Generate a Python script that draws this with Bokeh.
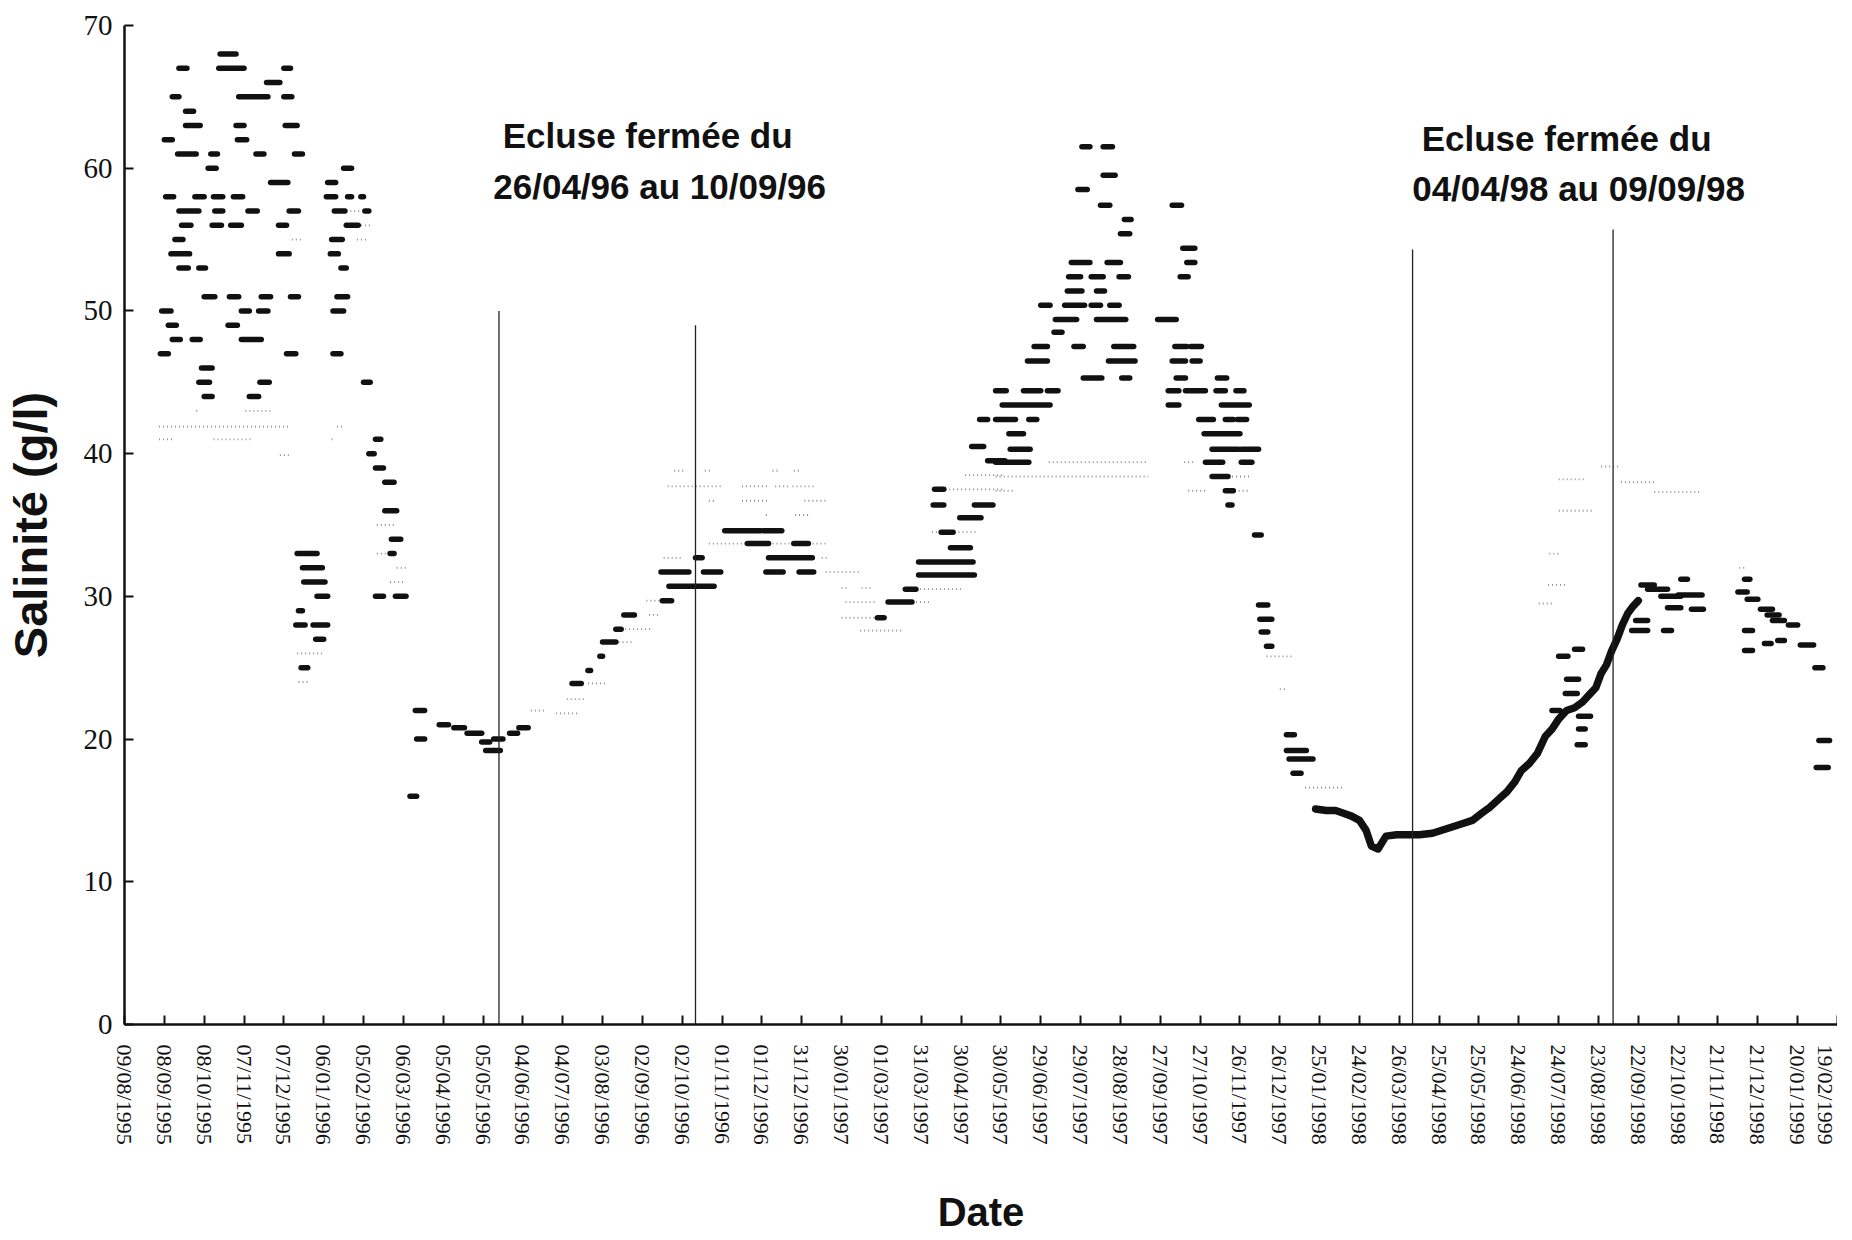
import datetime as dt
from bokeh.plotting import figure
from bokeh.models import FixedTicker, Range1d, Label, ColumnDataSource
from bokeh.embed import file_html
from bokeh.resources import INLINE

# ---------------- DATA ----------------
ORIGINE = dt.date(1995, 8, 9)   # jour 0 de l'axe

dates_graduations = [
    "09/08/1995", "08/09/1995", "08/10/1995", "07/11/1995", "07/12/1995",
    "06/01/1996", "05/02/1996", "06/03/1996", "05/04/1996", "05/05/1996",
    "04/06/1996", "04/07/1996", "03/08/1996", "02/09/1996", "02/10/1996",
    "01/11/1996", "01/12/1996", "31/12/1996", "30/01/1997", "01/03/1997",
    "31/03/1997", "30/04/1997", "30/05/1997", "29/06/1997", "29/07/1997",
    "28/08/1997", "27/09/1997", "27/10/1997", "26/11/1997", "26/12/1997",
    "25/01/1998", "24/02/1998", "26/03/1998", "25/04/1998", "25/05/1998",
    "24/06/1998", "24/07/1998", "23/08/1998", "22/09/1998", "22/10/1998",
    "21/11/1998", "21/12/1998", "20/01/1999", "19/02/1999",
]

# Mesures (traits noirs) : paliers de salinité, jour de début / fin (jours depuis le 09/08/1995)
noir_debut = [
    72, 41, 71, 120, 107, 36, 86, 120, 46, 46, 84, 121, 30, 85,
    40, 65, 99, 128, 63, 165, 110, 153,
    31, 53, 67, 82, 152, 168, 178, 41, 68, 93, 124, 158, 181,
    43, 66, 80, 116, 167, 38, 156, 35, 116, 155, 41, 56, 163,
    60, 79, 103, 125, 160, 28, 88, 101, 157, 33, 78, 36, 51, 88,
    27, 122, 157, 58, 56, 102, 180, 60, 94,
    189, 184, 189, 196, 196, 201, 200, 189, 204,
    130, 134, 135, 145, 131, 129, 142, 144, 133,
    215, 219, 220, 237, 248, 258, 269, 272, 278, 290, 297,
    337, 349, 358, 360, 370, 376, 405, 410, 404, 436, 483, 508, 430, 485, 469, 504, 452, 481, 567, 575,
    588, 598, 598, 622, 615, 629, 609, 640, 610, 650, 638, 644,
    721, 737, 737, 718, 735, 789, 753, 750, 797, 713, 740, 800,
    711, 728, 749, 795, 710, 732, 690, 708, 728, 742, 701, 732, 778, 700,
    685, 715, 745, 791, 803, 680, 741, 789, 804, 722, 751, 792, 823,
    656, 677, 695, 786, 799, 822, 837, 661, 786, 826, 656, 681, 809, 829, 838,
    666, 813, 667, 819, 841, 656, 814, 841, 819, 829, 831, 851, 854, 855, 856, 860,
    875, 875, 877, 880, 1075,
    1080, 1092, 1086, 1085, 1095, 1095, 1094,
    1135, 1138, 1142, 1147, 1157, 1162, 1170, 1172, 1180, 1159,
    1215, 1220, 1222, 1232, 1237, 1241, 1253, 1262, 1273, 1220, 1220, 1235, 1245, 1276, 1274,
]
noir_fin = [
    84, 47, 90, 125, 117, 41, 108, 126, 52, 57, 90, 130, 36, 92,
    54, 70, 105, 134, 69, 171, 123, 159,
    37, 60, 74, 89, 159, 171, 180, 56, 74, 100, 131, 166, 184,
    50, 73, 88, 122, 176, 44, 164, 49, 124, 161, 48, 61, 167,
    68, 86, 110, 131, 168, 35, 94, 108, 165, 39, 85, 42, 57, 103,
    33, 129, 163, 66, 64, 109, 185, 66, 101,
    193, 188, 195, 203, 205, 208, 203, 195, 212,
    145, 149, 151, 153, 134, 136, 153, 150, 138,
    220, 226, 226, 244, 256, 269, 275, 283, 285, 296, 304,
    344, 351, 360, 370, 374, 384, 412, 444, 425, 449, 496, 519, 435, 518, 485, 515, 479, 495, 572, 593,
    596, 640, 639, 637, 624, 645, 617, 654, 617, 663, 647, 650,
    727, 744, 746, 725, 742, 796, 758, 757, 806, 727, 750, 806,
    720, 737, 756, 801, 721, 738, 697, 723, 735, 749, 717, 754, 792, 706,
    695, 722, 760, 800, 811, 695, 761, 799, 810, 736, 757, 799, 830,
    664, 690, 703, 794, 814, 829, 843, 697, 794, 847, 671, 687, 820, 835, 845,
    677, 840, 682, 839, 854, 681, 827, 849, 831, 835, 834, 856, 861, 864, 861, 864,
    881, 890, 895, 886, 1081,
    1087, 1098, 1095, 1094, 1104, 1100, 1100,
    1147, 1147, 1152, 1162, 1172, 1172, 1188, 1177, 1189, 1165,
    1222, 1224, 1230, 1241, 1246, 1250, 1260, 1272, 1279, 1226, 1226, 1240, 1250, 1284, 1283,
]
noir_salinite = [
    68, 67, 67, 67, 66, 65, 65, 65, 64, 63, 63, 63, 62, 62,
    61, 61, 61, 61, 60, 60, 59, 59,
    58, 58, 58, 58, 58, 58, 58, 57, 57, 57, 57, 57, 57,
    56, 56, 56, 56, 56, 55, 55, 54, 54, 54, 53, 53, 53,
    51, 51, 51, 51, 51, 50, 50, 50, 50, 49, 49, 48, 48, 48,
    47, 47, 47, 46, 45, 45, 45, 44, 44,
    41, 40, 39, 38, 36, 34, 33, 30, 30,
    33, 32, 31, 30, 29, 28, 28, 27, 25,
    16, 22, 20, 21, 20.8, 20.4, 19.8, 19.2, 20.0, 20.4, 20.8,
    23.9, 24.8, 25.8, 26.8, 27.7, 28.7, 29.7, 30.7, 31.7, 31.7, 31.7, 31.7, 32.7, 32.7, 33.7, 33.7, 34.6, 34.6, 28.5, 29.6,
    30.5, 31.5, 32.4, 33.4, 34.5, 35.5, 36.4, 36.4, 37.5, 39.5, 40.5, 42.4,
    61.5, 61.5, 59.5, 58.5, 57.4, 57.4, 56.4, 55.4, 54.4, 53.4, 53.4, 53.4,
    52.4, 52.4, 52.4, 52.4, 51.4, 51.4, 50.4, 50.4, 50.4, 50.4, 49.4, 49.4, 49.4, 48.5,
    47.5, 47.5, 47.5, 47.5, 47.5, 46.5, 46.5, 46.5, 46.5, 45.3, 45.3, 45.3, 45.3,
    44.4, 44.4, 44.4, 44.4, 44.4, 44.4, 44.4, 43.4, 43.4, 43.4, 42.4, 42.4, 42.4, 42.4, 42.4,
    41.4, 41.4, 40.3, 40.3, 40.3, 39.4, 39.4, 39.4, 38.4, 37.4, 36.4, 34.3, 29.4, 28.4, 27.5, 26.5,
    20.3, 19.2, 18.6, 17.6, 22.0,
    25.8, 26.3, 24.2, 23.2, 21.6, 20.7, 19.6,
    27.6, 28.3, 30.8, 30.5, 30.0, 29.2, 30.1, 31.2, 29.1, 27.6,
    30.3, 31.2, 29.8, 29.1, 28.7, 28.3, 28.0, 26.6, 25.0, 27.6, 26.2, 26.7, 26.9, 19.9, 18.0,
]

# Enregistrement continu (hiver 1997-98 -> septembre 1998)
continu_jour = [897, 905, 912, 918, 924, 930, 935, 939, 944, 950, 958, 966, 975, 985,
                995, 1005, 1015, 1022, 1028, 1035, 1041, 1047, 1052, 1058, 1064, 1070,
                1075, 1080, 1086, 1092, 1098, 1104, 1108, 1112, 1116, 1120, 1124, 1128,
                1132, 1136, 1140]
continu_sal = [15.1, 15.0, 15.0, 14.8, 14.6, 14.3, 13.6, 12.5, 12.3, 13.2, 13.3, 13.3, 13.3, 13.4,
               13.7, 14.0, 14.3, 14.8, 15.2, 15.8, 16.3, 17.0, 17.8, 18.3, 19.0, 20.2,
               20.7, 21.4, 22.0, 22.2, 22.6, 23.2, 23.6, 24.6, 25.2, 26.2, 27.0, 28.0,
               28.8, 29.3, 29.7]

# Mesures (pointillés gris clair)
gris_debut = [
    26, 26, 67, 156, 160, 54, 91, 117, 126, 170, 172, 175, 130, 131, 143, 190, 190, 200, 205,
    325, 333, 306, 349, 360, 377, 395, 393,
    409, 465, 490, 503, 414, 437, 488, 504, 440, 465, 512, 483, 505, 440, 485, 406, 525, 528,
    540, 555, 543, 593, 540, 554,
    599, 608, 628, 621, 633, 696, 798, 656, 831, 656, 801, 836,
    860, 889, 870,
    1080, 1112, 1127, 1152, 1080, 1073, 1065, 1072, 1216,
]
gris_fin = [
    125, 37, 95, 159, 165, 56, 110, 124, 135, 185, 185, 182, 150, 138, 150, 200, 205, 212, 212,
    343, 348, 318, 362, 382, 398, 403, 405,
    450, 485, 500, 520, 423, 441, 494, 508, 445, 485, 530, 486, 515, 468, 528, 421, 530, 555,
    546, 563, 565, 608, 575, 585,
    630, 625, 643, 663, 663, 771, 806, 771, 848, 671, 816, 846,
    880, 917, 876,
    1100, 1125, 1152, 1187, 1105, 1082, 1077, 1085, 1222,
]
gris_salinite = [
    41.9, 41.0, 41.0, 41.0, 41.9, 43.0, 43.0, 39.9, 55.0, 57.0, 56.0, 55.0, 26.0, 24.0, 27.0, 33.0, 35.0, 31.0, 32.0,
    21.8, 22.8, 22.0, 23.9, 26.8, 27.7, 28.7, 29.7,
    37.7, 37.7, 37.7, 37.7, 38.8, 38.8, 38.8, 38.8, 36.7, 36.7, 36.7, 35.7, 35.7, 33.7, 33.7, 32.7, 32.7, 31.7,
    30.6, 30.6, 29.6, 29.6, 28.5, 27.6,
    30.5, 34.5, 34.5, 37.5, 38.5, 39.4, 39.4, 38.4, 38.4, 37.4, 37.4, 37.4,
    25.8, 16.6, 23.5,
    38.2, 39.1, 38.0, 37.3, 36.0, 33.0, 29.5, 30.8, 32.0,
]

# Fermetures de l'écluse : traits verticaux (jour, hauteur en g/l)
ecluse_jour = [282, 430, 970, 1121]
ecluse_haut = [50.0, 49.0, 54.3, 55.7]

annotations = ["Ecluse fermée du", "26/04/96 au 10/09/96",
               "Ecluse fermée du", "04/04/98 au 09/09/98"]

# ---------------- FIGURE ----------------
def jour(s):
    return (dt.datetime.strptime(s, "%d/%m/%Y").date() - ORIGINE).days

ticks = [jour(s) for s in dates_graduations]

p = figure(frame_width=1713, frame_height=999, output_backend="svg",
           toolbar_location=None, min_border_left=123, min_border_top=25,
           min_border_right=0, min_border_bottom=0,
           x_range=Range1d(0, ticks[-1]), y_range=Range1d(0, 70))
p.outline_line_color = None
p.xgrid.grid_line_color = None
p.ygrid.grid_line_color = None
p.background_fill_color = "white"
p.border_fill_color = "white"

gris = ColumnDataSource(dict(d=gris_debut, f=gris_fin, s=gris_salinite))
p.segment(x0="d", y0="s", x1="f", y1="s", source=gris, line_color="#8e8e8e",
          line_width=1.8, line_dash="1 3")

noir = ColumnDataSource(dict(d=noir_debut, f=noir_fin, s=noir_salinite))
p.segment(x0="d", y0="s", x1="f", y1="s", source=noir, line_color="#111111",
          line_width=5.5, line_cap="round")

p.line(continu_jour, continu_sal, line_color="#111111", line_width=7.5,
       line_cap="round", line_join="round")

p.segment(x0=ecluse_jour, y0=[0] * len(ecluse_jour), x1=ecluse_jour, y1=ecluse_haut,
          line_color="#222222", line_width=1.3)

# annotations
pos = [(394, 62.3), (403, 58.7), (1086, 62.1), (1095, 58.6)]
for txt, (x, y) in zip(annotations, pos):
    p.add_layout(Label(x=x, y=y, text=txt, text_align="center", text_baseline="middle",
                       text_font="Liberation Sans", text_font_style="bold",
                       text_font_size="35px", text_color="#111111"))

# axes
p.xaxis.ticker = FixedTicker(ticks=ticks)
p.xaxis.major_label_overrides = {t: s for t, s in zip(ticks, dates_graduations)}
p.xaxis.major_label_orientation = "vertical"
p.xaxis.major_label_text_font = "Liberation Serif"
p.xaxis.major_label_text_font_size = "22px"
p.xaxis.major_label_standoff = 20
p.xaxis.axis_label = "Date"
p.xaxis.axis_label_text_font = "Liberation Sans"
p.xaxis.axis_label_text_font_style = "bold"
p.xaxis.axis_label_text_font_size = "40px"
p.xaxis.axis_label_standoff = 42

p.yaxis.ticker = FixedTicker(ticks=[0, 10, 20, 30, 40, 50, 60, 70])
p.yaxis.major_label_text_font = "Liberation Serif"
p.yaxis.major_label_text_font_size = "29px"
p.yaxis.major_label_standoff = 12
p.yaxis.axis_label = "Salinité (g/l)"
p.yaxis.axis_label_text_font = "Liberation Sans"
p.yaxis.axis_label_text_font_style = "bold"
p.yaxis.axis_label_text_font_size = "47px"
p.yaxis.axis_label_standoff = 24

for ax in (p.xaxis, p.yaxis):
    ax.axis_line_width = 2.5
    ax.axis_line_color = "#111111"
    ax.major_tick_in = 9
    ax.major_tick_out = 0
    ax.major_tick_line_width = 2
    ax.major_tick_line_color = "#111111"
    ax.minor_tick_line_color = None
    ax.major_label_text_color = "#111111"
    ax.axis_label_text_color = "#111111"

open("out.html", "w").write(file_html(p, INLINE))
